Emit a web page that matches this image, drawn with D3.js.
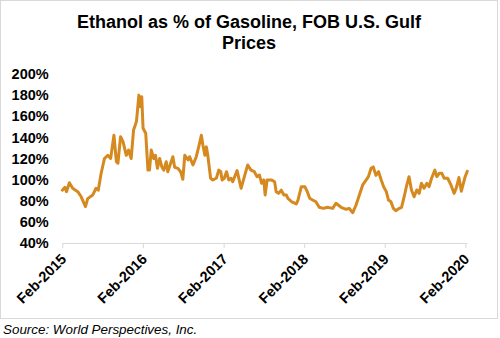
<!DOCTYPE html>
<html><head><meta charset="utf-8">
<script src="https://cdn.jsdelivr.net/npm/d3@7"></script>
<style>body{margin:0;background:#fff}svg{display:block}</style>
</head><body>
<svg id="c" width="500" height="338"></svg>
<script>
const dates = [
"2015-02-01","2015-02-13","2015-02-20","2015-03-05","2015-03-20","2015-04-12","2015-04-27","2015-05-17","2015-05-27","2015-06-19",
"2015-07-04","2015-07-14","2015-07-27","2015-08-11","2015-08-26","2015-09-08","2015-09-23","2015-10-04","2015-10-11","2015-10-23",
"2015-11-03","2015-11-18","2015-11-28","2015-12-10","2015-12-21","2016-01-03","2016-01-14","2016-01-21","2016-01-27","2016-02-02",
"2016-02-14","2016-02-24","2016-03-02","2016-03-10","2016-03-21","2016-03-29","2016-04-07","2016-04-17","2016-04-27","2016-05-06",
"2016-05-17","2016-05-24","2016-06-06","2016-06-16","2016-06-24","2016-07-09","2016-07-21","2016-07-31","2016-08-09","2016-08-24",
"2016-08-31","2016-09-15","2016-09-30","2016-10-11","2016-10-23","2016-10-30","2016-11-08","2016-11-15","2016-11-22","2016-12-04",
"2016-12-14","2016-12-30","2017-01-10","2017-01-19","2017-01-25","2017-02-04","2017-02-14","2017-02-24","2017-03-07","2017-03-14",
"2017-04-03","2017-04-21","2017-05-06","2017-05-21","2017-06-05","2017-06-20","2017-07-02","2017-07-13","2017-07-23","2017-08-02",
"2017-08-08","2017-08-17","2017-09-05","2017-09-20","2017-09-27","2017-10-08","2017-10-20","2017-11-01","2017-11-12","2017-11-19",
"2017-12-07","2017-12-27","2018-01-04","2018-01-19","2018-02-04","2018-02-15","2018-02-26","2018-03-11","2018-03-26","2018-04-10",
"2018-04-29","2018-05-17","2018-06-10","2018-06-25","2018-07-18","2018-08-10","2018-08-24","2018-09-09","2018-09-24","2018-10-09",
"2018-10-24","2018-11-09","2018-11-19","2018-12-01","2018-12-11","2018-12-23","2019-01-04","2019-01-16","2019-01-27","2019-02-08",
"2019-02-18","2019-03-01","2019-03-12","2019-03-23","2019-04-08","2019-04-18","2019-04-30","2019-05-10","2019-05-22","2019-06-02",
"2019-06-14","2019-06-26","2019-07-07","2019-07-17","2019-07-29","2019-08-11","2019-08-21","2019-09-01","2019-09-16","2019-09-25",
"2019-10-06","2019-10-18","2019-10-28","2019-11-13","2019-11-28","2019-12-12","2019-12-22","2020-01-03","2020-01-14","2020-01-30",
"2020-02-10"
];
const values = [
90,92.7,88.6,97,91.8,88.6,84,74.5,82,85.5,
91.8,90,106,120,123,120,142,117,115.5,140.7,
136,123,128,120,147,155,180,169,178.5,148.6,
143.9,109,109,128,120,123,110.7,120,112,109,
117,107.5,115.5,121.7,111.7,110.7,107.5,100.3,123,118.6,
121.7,113.9,121.7,131,142,132.8,123,131,121.7,101.3,
99.7,101.3,109,107.5,99.7,101.3,107.5,99.7,101.3,98,
108.5,91.8,102.8,113.9,109,107.5,102.8,104.4,96.5,99.7,
85.5,99.7,99.7,98,88.6,87,90,85.5,85.5,82.3,
79,77,80.7,93.3,93.3,88.6,82.3,80.7,79,73.8,
72.8,73.8,72.8,77.6,73.8,71.9,72.8,68.7,76,85.5,
95,99.7,102.8,110.7,112,104,107.5,99.7,93.3,88.6,
80.7,79,72.8,70.6,72.8,73.8,83.8,93.3,102.8,90.2,
83.8,90.2,87,96.5,91.8,96.5,93.3,101.3,109,102.8,
106,106,101.3,101.3,95,87,92,102,89,102,
108
];
const yTickValues = [40,60,80,100,120,140,160,180,200];
const xTickDates = ["2015-02-01","2016-02-01","2017-02-01","2018-02-01","2019-02-01","2020-02-01"];
const xTickLabels = ["Feb-2015","Feb-2016","Feb-2017","Feb-2018","Feb-2019","Feb-2020"];
const titleLines = ["Ethanol as % of Gasoline, FOB U.S. Gulf","Prices"];
const sourceText = "Source: World Perspectives, Inc.";

const FONT = "'Liberation Sans', Arial, sans-serif";
const parse = d3.timeParse("%Y-%m-%d");
const svg = d3.select("#c");

svg.append("rect").attr("x",0.5).attr("y",0.5).attr("width",497).attr("height",318)
  .attr("fill","#fff").attr("stroke","#d9d9d9").attr("stroke-width",1);

const x = d3.scaleTime().domain([parse("2015-02-01"), parse("2020-02-10")]).range([62.3, 467.3]);
const y = d3.scaleLinear().domain([40,200]).range([243,74]);

// title
svg.append("text").attr("x",249).attr("y",28).attr("text-anchor","middle")
  .style("font-family",FONT).style("font-weight","bold").style("font-size","18px").attr("fill","#000")
  .selectAll("tspan").data(titleLines).join("tspan")
  .attr("x",249).attr("dy",(d,i)=> i===0?0:21).text(d=>d);

// y axis
const yAxis = svg.append("g").attr("transform","translate(62.3,0)")
  .call(d3.axisLeft(y).tickValues(yTickValues).tickSize(0).tickPadding(13.6).tickFormat(d=>d+"%"));
yAxis.select(".domain").remove();
yAxis.selectAll("text").style("font-family",FONT).style("font-weight","bold").style("font-size","14.5px").attr("fill","#000");

// x axis
const xAxis = svg.append("g").attr("transform","translate(0,243)")
  .call(d3.axisBottom(x).tickValues(xTickDates.map(parse)).tickSize(5).tickFormat((d,i)=>xTickLabels[i]));
xAxis.select(".domain").attr("stroke","#d9d9d9").attr("d","M62.3,0.5H467.3");
xAxis.selectAll(".tick line").attr("stroke","#d9d9d9");
xAxis.selectAll(".tick text").attr("x",0).attr("y",0).attr("dy",0)
  .attr("text-anchor","end").attr("transform","translate(4.5,17) rotate(-45)")
  .style("font-family",FONT).style("font-weight","bold").style("font-size","14.5px").attr("fill","#000");

// line
const pts = dates.map((d,i)=>({d:parse(d), v:values[i]}));
svg.append("path").datum(pts)
  .attr("fill","none").attr("stroke","#D5891F").attr("stroke-width",3)
  .attr("stroke-linejoin","round").attr("stroke-linecap","round")
  .attr("d", d3.line().x(p=>x(p.d)).y(p=>y(p.v)));

// source
svg.append("text").attr("x",3).attr("y",333.5).text(sourceText)
  .style("font-family",FONT).style("font-style","italic").style("font-size","13.4px").attr("fill","#000");
</script>
</body></html>
